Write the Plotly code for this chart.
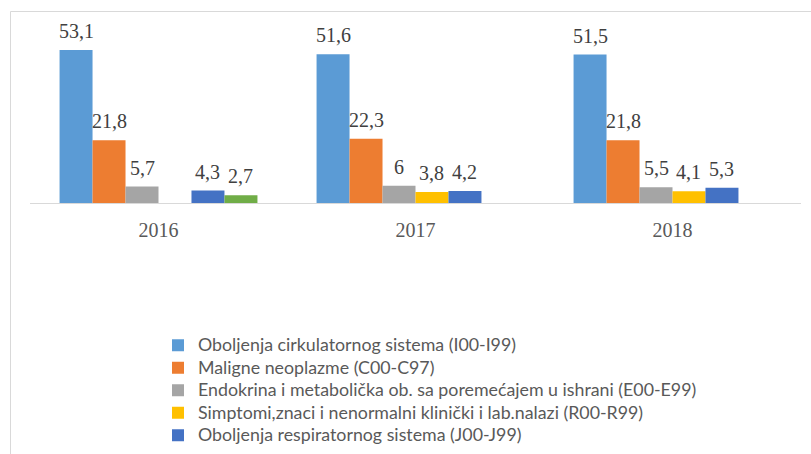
import plotly.graph_objects as go

years = ["2016", "2017", "2018"]
series_names = [
    "Oboljenja cirkulatornog sistema (I00-I99)",
    "Maligne neoplazme (C00-C97)",
    "Endokrina i metabolička ob. sa poremećajem u ishrani (E00-E99)",
    "Simptomi,znaci i nenormalni klinički i lab.nalazi (R00-R99)",
    "Oboljenja respiratornog sistema (J00-J99)",
    "Ostalo",
]
circulatory = [53.1, 51.6, 51.5]
neoplasms = [21.8, 22.3, 21.8]
endocrine = [5.7, 6.0, 5.5]
symptoms = [None, 3.8, 4.1]
respiratory = [4.3, 4.2, 5.3]
other = [2.7, None, None]

values = [circulatory, neoplasms, endocrine, symptoms, respiratory, other]
colors = ["#5B9BD5", "#ED7D31", "#A5A5A5", "#FFC000", "#4472C4", "#70AD47"]
show_in_legend = [True, True, True, True, True, False]

W, H = 811, 454
# plot area in page pixels
PL, PR, PT, PB = 30, 801, 30, 203
ml, mr, mt, mb = PL, W - PR, PT, H - PB
bargap = 0.23

def fmt(v):
    s = ("%.1f" % v).rstrip("0").rstrip(".")
    return s.replace(".", ",")

fig = go.Figure()
for name, vals, col, sl in zip(series_names, values, colors, show_in_legend):
    fig.add_trace(go.Bar(
        x=years, y=vals,
        name="<span style='font-size:17.8px'>" + name + "</span>",
        marker_color=col, marker_line_width=0, showlegend=sl,
    ))

n = len(values)
bw = (1 - bargap) / n
annotations = []
for k, vals in enumerate(values):
    for i, v in enumerate(vals):
        if v is None:
            continue
        annotations.append(dict(
            x=i + (k - (n - 1) / 2) * bw, y=v, xref="x", yref="y",
            text=fmt(v), showarrow=False, yanchor="bottom", yshift=6,
            font=dict(family="Liberation Serif", size=20, color="#404040"),
        ))

pw = PR - PL
ph = PB - PT
def px_x(p):
    return (p - PL) / pw
def px_y(p):
    return (PB - p) / ph

fig.update_layout(
    width=W, height=H,
    margin=dict(l=ml, r=mr, t=mt, b=mb, autoexpand=False),
    paper_bgcolor="white", plot_bgcolor="white",
    barmode="group", bargap=bargap, bargroupgap=0,
    annotations=annotations,
    xaxis=dict(
        showline=True, linecolor="#D9D9D9", linewidth=1,
        showgrid=False, ticks="", ticklabelstandoff=9,
        tickfont=dict(family="Liberation Serif", size=20, color="#595959"),
    ),
    yaxis=dict(range=[0, 60], visible=False, showgrid=False),
    legend=dict(
        orientation="v", traceorder="normal",
        x=px_x(158), xanchor="left", y=px_y(329), yanchor="top",
        font=dict(family="Lato", size=15, color="#595959"),
        bgcolor="rgba(0,0,0,0)",
        tracegroupgap=0,
    ),
    shapes=[
        dict(type="line", xref="paper", yref="paper",
             x0=px_x(10.5), x1=px_x(W), y0=px_y(11.5), y1=px_y(11.5),
             line=dict(color="#D9D9D9", width=1)),
        dict(type="line", xref="paper", yref="paper",
             x0=px_x(10.5), x1=px_x(10.5), y0=px_y(11.5), y1=px_y(H),
             line=dict(color="#D9D9D9", width=1)),
    ],
)

fig.write_html("out.html", config={"displayModeBar": False},
               post_script="document.body.style.margin='0';")
